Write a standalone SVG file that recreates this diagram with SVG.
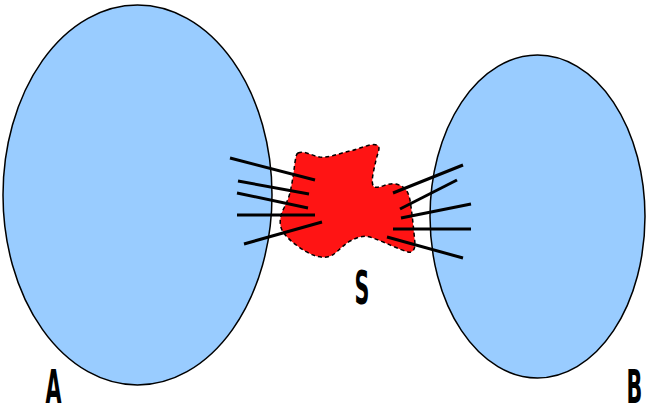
<svg xmlns="http://www.w3.org/2000/svg" width="650" height="407" viewBox="0 0 650 407">
<style>
.set{fill:#99ccff;stroke:#000;stroke-width:1.5}
.sep{fill:#ff1414;stroke:#000;stroke-width:1.5;stroke-dasharray:4,3}
.edge{stroke:#000;stroke-width:3;fill:none}
.lbl{font-family:"DejaVu Sans",sans-serif;font-weight:bold;font-size:46px;text-anchor:middle;fill:#000}
</style>
<rect width="650" height="407" fill="#fff"/>
<g id="A"><ellipse class="set" cx="137.5" cy="195" rx="134.5" ry="190"/>
<text class="lbl" transform="translate(53.5,403) scale(0.45,1)">A</text></g>
<g id="B"><ellipse class="set" cx="537.5" cy="216.5" rx="107.5" ry="161.5"/>
<text class="lbl" transform="translate(634.5,403) scale(0.45,1)">B</text></g>
<g id="S"><path class="sep" d="M298,153 C304,150 312,156 320,157 C330,158 340,153 350,151 C360,149 370,143 377,145 C381,147 378,152 376,160 C374,170 370,183 374,187 C380,189 388,182 396,184 C404,186 408,190 410,200 C412,212 414,232 415,244 C415,250 412,253 408,252 C400,250 385,242 370,237 C362,235 356,238 350,241 C340,247 335,256 327,257 C318,258 312,255 305,251 C297,246 286,238 282,230 C279,224 280,216 283,210 C287,202 290,195 291,188 C293,178 294,170 295,162 C296,157 296,154 298,153 Z"/>
<text class="lbl" transform="translate(362,304) scale(0.45,1)">S</text></g>
<g id="connectors">
<line class="edge" x1="230" y1="158" x2="315" y2="180"/>
<line class="edge" x1="238" y1="181" x2="309" y2="194"/>
<line class="edge" x1="237" y1="193" x2="308" y2="208"/>
<line class="edge" x1="237" y1="215" x2="315" y2="215"/>
<line class="edge" x1="244" y1="244" x2="322" y2="222"/>
<line class="edge" x1="393" y1="193" x2="463" y2="165"/>
<line class="edge" x1="400" y1="209" x2="457" y2="180"/>
<line class="edge" x1="401" y1="218" x2="471" y2="204"/>
<line class="edge" x1="393" y1="229" x2="471" y2="229"/>
<line class="edge" x1="387" y1="237" x2="463" y2="258"/>
</g>
</svg>
